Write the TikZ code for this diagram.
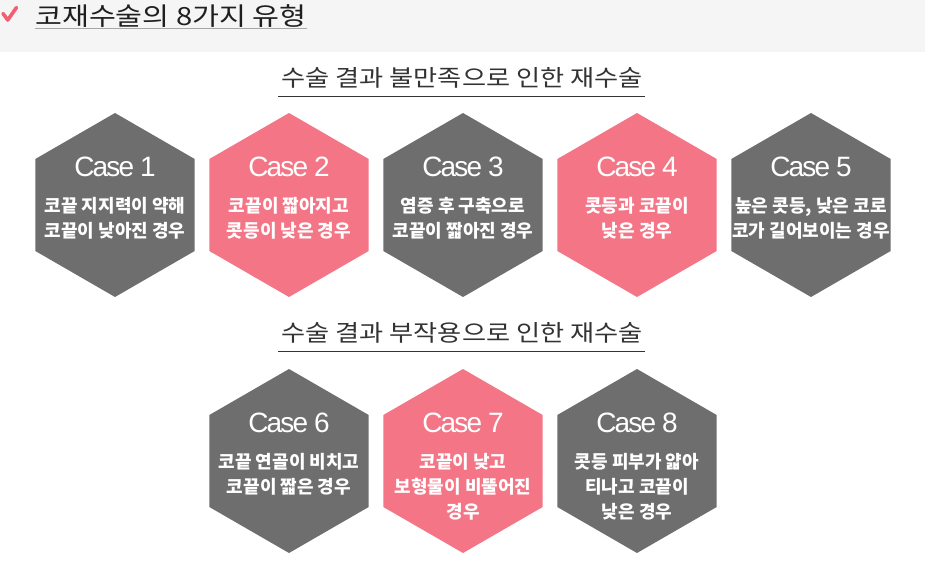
\documentclass[tikz,border=0pt]{standalone}
\usepackage{fontspec}
\setmainfont{Liberation Sans}
\newfontfamily\krfont{Noto Sans CJK KR}
\newfontfamily\titlefont{Noto Sans CJK KR}[FakeStretch=1.17]
\newfontfamily\subfont{Noto Sans CJK KR}[FakeStretch=1.14]
\newfontfamily\casefont{Liberation Sans}[LetterSpace=-6.5]
\usetikzlibrary{shapes.geometric}
\definecolor{hexgray}{RGB}{110,110,110}
\definecolor{hexpink}{RGB}{244,117,133}
\definecolor{headbg}{RGB}{245,245,245}
\definecolor{checkpink}{RGB}{240,96,112}
\tikzset{
  case hex/.style={
    regular polygon,regular polygon sides=6,shape border rotate=30,
    minimum size=184pt,inner sep=0pt,outer sep=0pt,draw=none
  },
  gray hex/.style={case hex,fill=hexgray},
  pink hex/.style={case hex,fill=hexpink},
  case label/.style={text=white,inner sep=0pt,
    font=\casefont\fontsize{28}{28}\selectfont},
  case text/.style={text=white,inner sep=0pt,anchor=north,align=center,
    font=\krfont\bfseries\fontsize{18}{25}\selectfont},
  sub title/.style={text=black!80,inner sep=0pt,
    font=\subfont\fontsize{23}{23}\selectfont},
  sub rule/.style={black!80,line width=0.9pt}
}
\newcommand{\casehexat}[5]{%
  \node[#3] (#1) at (#2) {};
  \node[case label] (#1 label) at ([yshift=38pt]#1.center) {Case #4};
  \node[case text] (#1 text) at ([yshift=7.5pt]#1.center) {#5};
}

\begin{document}
\begin{tikzpicture}[x=1pt,y=-1pt]
  \useasboundingbox (0,0) rectangle (925,569);
  \fill[headbg] (0,0) rectangle (925,52);
  \draw[checkpink,line width=3.6pt,line cap=round,line join=round]
    (3,13.5) -- (7.8,20) -- (16.5,7.5);
  \node[anchor=west,inner sep=0pt,text=black!88,
    font=\titlefont\fontsize{25}{25}\selectfont] (title) at (35,16.5) {코재수술의 8가지 유형};
  \draw[black!35,line width=0.8pt] (35,28.5) -- (307,28.5);
  % first group
  \node[sub title] (sub1) at (462,78) {수술 결과 불만족으로 인한 재수술};
  \draw[sub rule] (278,96) -- (645,96);
  \casehexat{c1}{115,205}{gray hex}{1}{코끝 지지력이 약해\\코끝이 낮아진 경우}
  \casehexat{c2}{289,205}{pink hex}{2}{코끝이 짧아지고\\콧등이 낮은 경우}
  \casehexat{c3}{463,205}{gray hex}{3}{염증 후 구축으로\\코끝이 짧아진 경우}
  \casehexat{c4}{637,205}{pink hex}{4}{콧등과 코끝이\\낮은 경우}
  \casehexat{c5}{811,205}{gray hex}{5}{높은 콧등, 낮은 코로\\코가 길어보이는 경우}
  % second group
  \node[sub title] (sub2) at (462,333) {수술 결과 부작용으로 인한 재수술};
  \draw[sub rule] (278,351) -- (645,351);
  \casehexat{c6}{289,461}{gray hex}{6}{코끝 연골이 비치고\\코끝이 짧은 경우}
  \casehexat{c7}{463,461}{pink hex}{7}{코끝이 낮고\\보형물이 비뚤어진\\경우}
  \casehexat{c8}{637,461}{gray hex}{8}{콧등 피부가 얇아\\티나고 코끝이\\낮은 경우}
\end{tikzpicture}
\end{document}
